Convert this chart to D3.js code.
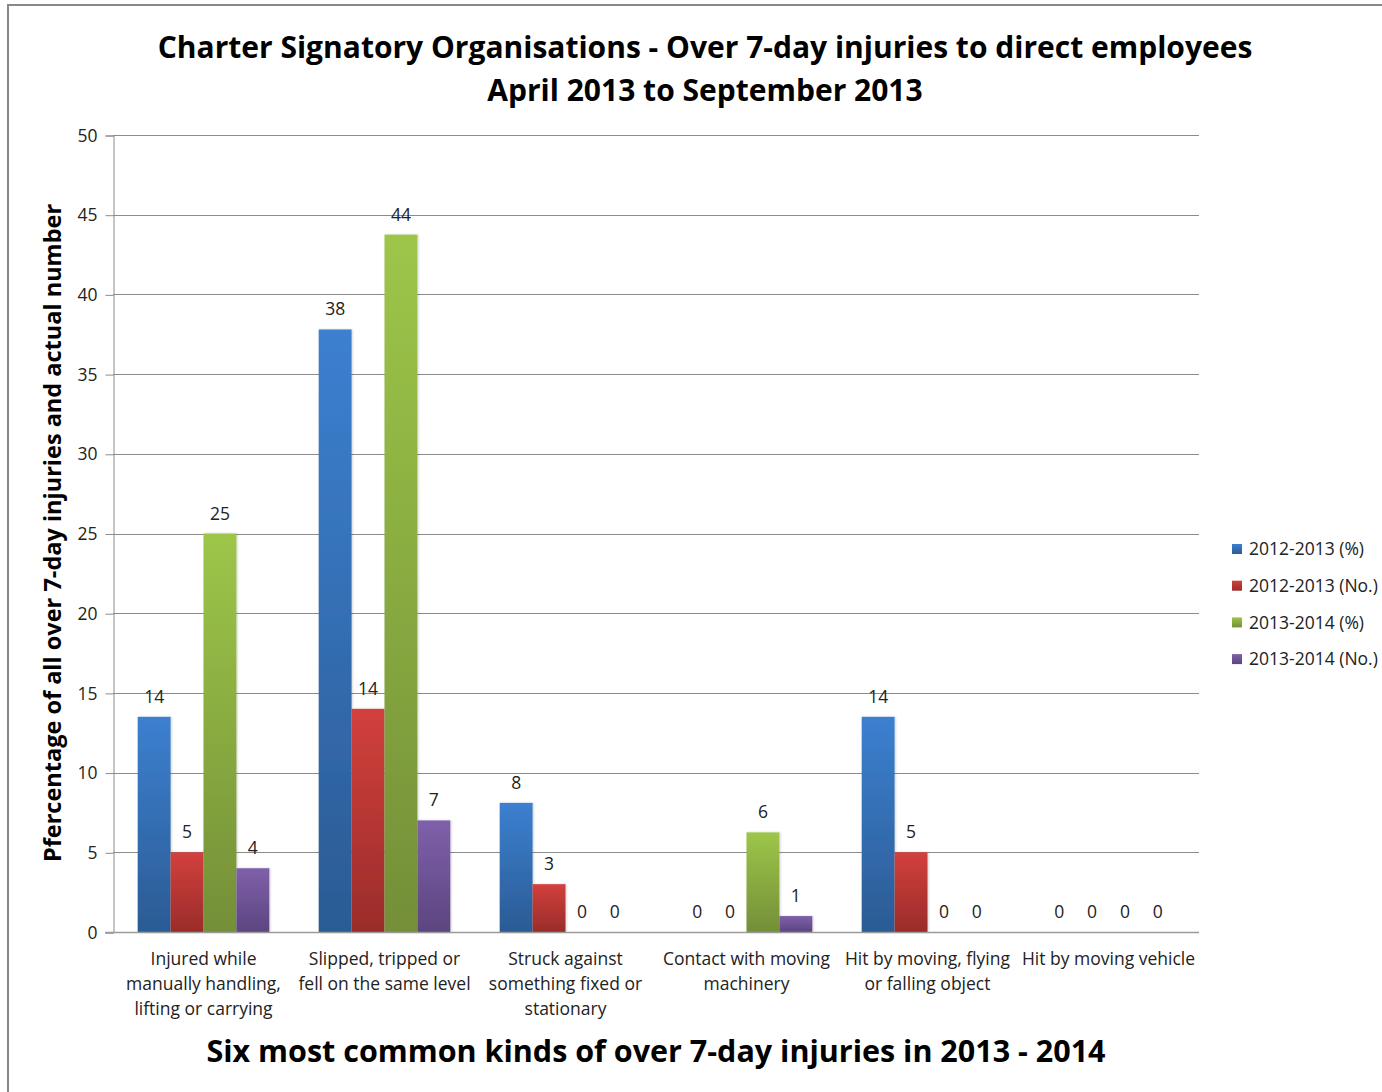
<!DOCTYPE html>
<html>
<head>
<meta charset="utf-8">
<script src="https://cdn.jsdelivr.net/npm/d3@7"></script>
<style>
  html, body { margin: 0; padding: 0; background: #fff; overflow: hidden; }
  svg { display: block; }
  text { font-family: "Open Sans", "DejaVu Sans", sans-serif; }
</style>
</head>
<body>
<script>
// ---- data ----
const categories = [
  "Injured while manually handling, lifting or carrying",
  "Slipped, tripped or fell on the same level",
  "Struck against something fixed or stationary",
  "Contact with moving machinery",
  "Hit by moving, flying or falling object",
  "Hit by moving vehicle"
];
const categoryLines = [
  ["Injured while", "manually handling,", "lifting or carrying"],
  ["Slipped, tripped or", "fell on the same level"],
  ["Struck against", "something fixed or", "stationary"],
  ["Contact with moving", "machinery"],
  ["Hit by moving, flying", "or falling object"],
  ["Hit by moving vehicle"]
];
const seriesNames = ["2012-2013 (%)", "2012-2013 (No.)", "2013-2014 (%)", "2013-2014 (No.)"];
const pct2012 = [13.5, 37.8, 8.1, 0, 13.5, 0];
const num2012 = [5, 14, 3, 0, 5, 0];
const pct2013 = [25, 43.75, 0, 6.25, 0, 0];
const num2013 = [4, 7, 0, 1, 0, 0];
const yTicks = [0, 5, 10, 15, 20, 25, 30, 35, 40, 45, 50];
const titleLines = ["Charter Signatory Organisations - Over 7-day injuries to direct employees", "April 2013 to September 2013"];
const yTitle = "Pfercentage of all over 7-day injuries and actual number";
const xTitle = "Six most common kinds of over 7-day injuries in 2013 - 2014";

const seriesValues = [pct2012, num2012, pct2013, num2013];
const colorsTop = ["#3c80d0", "#d2403d", "#9dc649", "#7f60aa"];
const colorsBottom = ["#2b5b94", "#9a2c2a", "#748f38", "#5c4580"];

// ---- layout ----
const W = 1382, H = 1092;
const plot = { left: 113, right: 1199, top: 135, bottom: 932 };
const small = 17.5;

const svg = d3.select("body").append("svg").attr("width", W).attr("height", H);

// border
svg.append("rect").attr("x", 8).attr("y", 5).attr("width", W + 20).attr("height", H + 20)
  .attr("fill", "none").attr("stroke", "#888").attr("stroke-width", 2);

const defs = svg.append("defs");
seriesNames.forEach((s, i) => {
  const g = defs.append("linearGradient").attr("id", "grad" + i)
    .attr("x1", 0).attr("y1", 0).attr("x2", 0).attr("y2", 1);
  g.append("stop").attr("offset", "0%").attr("stop-color", colorsTop[i]);
  g.append("stop").attr("offset", "100%").attr("stop-color", colorsBottom[i]);
});
const flt = defs.append("filter").attr("id", "shadow").attr("x", "-20%").attr("y", "-5%").attr("width", "140%").attr("height", "110%");
flt.append("feDropShadow").attr("dx", 1).attr("dy", 0).attr("stdDeviation", 1.2).attr("flood-color", "#000").attr("flood-opacity", 0.18);

const y = d3.scaleLinear().domain([0, 50]).range([plot.bottom, plot.top]);
const x0 = d3.scaleBand().domain(categories).range([plot.left, plot.right]).padding(0);
const bw = x0.bandwidth();
const gap = bw * 1.5 / 5.5;
const x1 = d3.scaleBand().domain(seriesNames).range([gap / 2, bw - gap / 2]).padding(0);

// gridlines
svg.append("g").selectAll("line").data(yTicks.filter(t => t > 0)).join("line")
  .attr("x1", plot.left).attr("x2", plot.right)
  .attr("y1", d => Math.round(y(d)) + 0.5).attr("y2", d => Math.round(y(d)) + 0.5)
  .attr("stroke", "#8c8c8c").attr("stroke-width", 1);

// y axis
const yAxis = svg.append("g").attr("transform", `translate(${plot.left + 0.5},0.5)`)
  .call(d3.axisLeft(y).tickValues(yTicks).tickSize(8).tickPadding(8));
yAxis.select(".domain").attr("stroke", "#8c8c8c");
yAxis.selectAll(".tick line").attr("stroke", "#8c8c8c");
yAxis.selectAll(".tick text").attr("font-size", small).attr("fill", "#222")
  .attr("font-family", "Open Sans");

// bars
const groups = svg.append("g").selectAll("g").data(categories).join("g")
  .attr("transform", d => `translate(${x0(d)},0)`);
groups.selectAll("rect").data((d, ci) => seriesNames.map((s, si) => ({ s, si, v: seriesValues[si][ci] })))
  .join("rect")
  .attr("x", d => x1(d.s)).attr("width", x1.bandwidth())
  .attr("y", d => y(d.v)).attr("height", d => y(0) - y(d.v))
  .attr("fill", d => `url(#grad${d.si})`)
  .attr("filter", "url(#shadow)");

// data labels
groups.selectAll("text.lbl").data((d, ci) => seriesNames.map((s, si) => ({ s, si, v: seriesValues[si][ci] })))
  .join("text").attr("class", "lbl")
  .attr("x", d => x1(d.s) + x1.bandwidth() / 2)
  .attr("y", d => y(d.v) - 14)
  .attr("text-anchor", "middle").attr("font-size", small).attr("fill", "#222")
  .text(d => Math.round(d.v));

// x axis baseline
svg.append("line").attr("x1", plot.left - 8).attr("x2", plot.right)
  .attr("y1", plot.bottom + 0.5).attr("y2", plot.bottom + 0.5)
  .attr("stroke", "#9a9a9a").attr("stroke-width", 1.5);

// category labels
const cl = svg.append("g").selectAll("text").data(categories).join("text")
  .attr("x", d => x0(d) + bw / 2).attr("y", 965)
  .attr("text-anchor", "middle").attr("font-size", small).attr("fill", "#222");
cl.each(function (d, i) {
  d3.select(this).selectAll("tspan").data(categoryLines[i]).join("tspan")
    .attr("x", x0(d) + bw / 2).attr("dy", (t, j) => j === 0 ? 0 : 25).text(t => t);
});

// titles
svg.append("g").selectAll("text").data(titleLines).join("text")
  .attr("x", 705).attr("y", (d, i) => 58 + i * 43)
  .attr("text-anchor", "middle").attr("font-size", 30).attr("font-weight", "bold").attr("fill", "#000")
  .text(d => d);

svg.append("text").attr("transform", `translate(61,533) rotate(-90)`)
  .attr("text-anchor", "middle").attr("font-size", 23.5).attr("font-weight", "bold").attr("fill", "#000")
  .text(yTitle);

svg.append("text").attr("x", 656).attr("y", 1062)
  .attr("text-anchor", "middle").attr("font-size", 30.5).attr("font-weight", "bold").attr("fill", "#000")
  .text(xTitle);

// legend
const lg = svg.append("g").selectAll("g").data(seriesNames).join("g")
  .attr("transform", (d, i) => `translate(1232,${549 + i * 36.7})`);
lg.append("rect").attr("x", 0).attr("y", -5).attr("width", 10).attr("height", 10)
  .attr("fill", (d, i) => `url(#grad${i})`);
lg.append("text").attr("x", 17).attr("y", 0).attr("dy", "0.35em")
  .attr("font-size", small).attr("fill", "#222").text(d => d);
</script>
</body>
</html>
